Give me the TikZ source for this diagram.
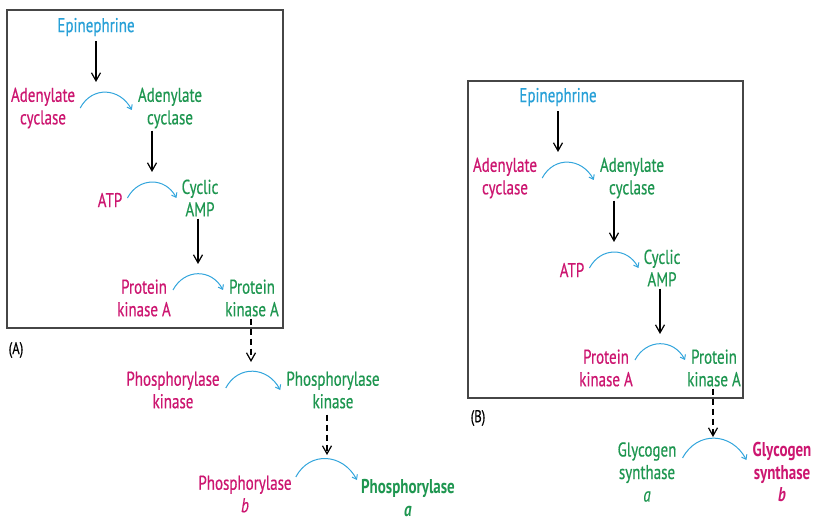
\documentclass[tikz,border=0pt]{standalone}
\usepackage{fontspec}
\setmainfont{PT Sans}[FakeStretch=0.75,UprightFeatures={FakeBold=0.5},ItalicFeatures={FakeBold=0.5}]
\usetikzlibrary{arrows.meta,calc}
\definecolor{magc}{RGB}{204,22,112}
\definecolor{grnc}{RGB}{30,150,80}
\definecolor{bluc}{RGB}{40,160,215}
\definecolor{arcc}{RGB}{50,165,220}
\definecolor{boxc}{RGB}{70,70,70}
\tikzset{
  x=1pt,y=1pt,
  txt/.style={align=center,inner sep=0pt,font=\fontsize{20}{22.5}\selectfont},
  mag/.style={txt,text=magc},
  grn/.style={txt,text=grnc},
  blu/.style={txt,text=bluc},
  panel/.style={draw=boxc,line width=1.1pt},
  plabel/.style={inner sep=0pt,font=\fontsize{17}{20}\selectfont,text=black},
  down/.style={line width=1.2pt,-{Straight Barb[length=8pt,width=9pt]}},
  dashdown/.style={down,dash pattern=on 6pt off 4pt},
  conv/.style={arcc,line width=1pt,-{Straight Barb[length=4pt,width=6pt]},out=62,in=118,looseness=1.25},
}
\begin{document}
\begin{tikzpicture}
\useasboundingbox (0,0) rectangle (824,-526);
% Panel A box
\draw[panel] (7,-10) rectangle (283,-328);
\node[plabel] (labA) at (16,-350) {(A)};
% Panel A nodes
\node[blu] (epiA) at (96,-27) {Epinephrine};
\node[mag] (acmA) at (43,-108) {Adenylate\\cyclase};
\node[grn] (acgA) at (170,-108) {Adenylate\\cyclase};
\node[mag] (atpA) at (110,-200) {ATP};
\node[grn] (campA) at (200,-198) {Cyclic\\AMP};
\node[mag] (pkmA) at (144,-298) {Protein\\kinase A};
\node[grn] (pkgA) at (252,-298) {Protein\\kinase A};
\node[mag] (phkm) at (173,-390) {Phosphorylase\\kinase};
\node[grn] (phkg) at (333,-390) {Phosphorylase\\kinase};
\node[mag] (phb) at (245,-494) {Phosphorylase\\\textit{b}};
\node[grn,font=\fontsize{20}{22.5}\selectfont\bfseries] (pha) at (408,-498) {Phosphorylase\\\textit{a}};
% arcs A
\draw[conv] ([xshift=5pt]acmA.east) to ([xshift=-6pt,yshift=-2pt]acgA.west);
\draw[conv] ([xshift=5pt,yshift=2pt]atpA.east) to ([xshift=-5pt]campA.west);
\draw[conv] ([xshift=2pt,yshift=8pt]pkmA.east) to ([xshift=-2pt,yshift=8pt]pkgA.west);
\draw[conv] ([xshift=6pt,yshift=2pt]phkm.east) to ([xshift=-6pt]phkg.west);
\draw[conv] ([xshift=4pt,yshift=17pt]phb.east) to ([xshift=-4pt,yshift=18pt]pha.west);
% vertical arrows A
\coordinate (e1) at (96,-82);
\coordinate (e2) at (152,-172);
\coordinate (e3) at (198,-264);
\coordinate (e4) at (251,-362);
\coordinate (e5) at (327,-455);
\draw[down] (epiA.south -| e1) ++(0,-5) -- (e1);
\draw[down] (acgA.south -| e2) ++(0,-2) -- (e2);
\draw[down] (campA.south -| e3) ++(0,-2) -- (e3);
\draw[dashdown] (pkgA.south -| e4) ++(0,-2) -- (e4);
\draw[dashdown] (phkg.south -| e5) ++(0,-6) -- (e5);
% Panel B box
\draw[panel] (468,-81) rectangle (743,-398);
\node[plabel] (labB) at (478,-418) {(B)};
\begin{scope}[shift={(462,-70)}]
\node[blu] (epiB) at (96,-27) {Epinephrine};
\node[mag] (acmB) at (43,-108) {Adenylate\\cyclase};
\node[grn] (acgB) at (170,-108) {Adenylate\\cyclase};
\node[mag] (atpB) at (110,-200) {ATP};
\node[grn] (campB) at (200,-198) {Cyclic\\AMP};
\node[mag] (pkmB) at (144,-298) {Protein\\kinase A};
\node[grn] (pkgB) at (252,-298) {Protein\\kinase A};
\coordinate (f1) at (96,-82);
\coordinate (f2) at (152,-172);
\coordinate (f3) at (198,-264);
\coordinate (f4) at (251,-367);
\end{scope}
\node[grn] (gsa) at (647,-472) {Glycogen\\synthase\\\textit{a}};
\node[mag,font=\fontsize{20}{22.5}\selectfont\bfseries] (gsb) at (782,-472) {Glycogen\\synthase\\\textit{b}};
\draw[conv] ([xshift=5pt]acmB.east) to ([xshift=-6pt,yshift=-2pt]acgB.west);
\draw[conv] ([xshift=5pt,yshift=2pt]atpB.east) to ([xshift=-5pt]campB.west);
\draw[conv] ([xshift=2pt,yshift=8pt]pkmB.east) to ([xshift=-2pt,yshift=8pt]pkgB.west);
\draw[conv] ([xshift=6pt,yshift=14pt]gsa.east) to ([xshift=-6pt,yshift=12pt]gsb.west);
\draw[down] (epiB.south -| f1) ++(0,-5) -- (f1);
\draw[down] (acgB.south -| f2) ++(0,-2) -- (f2);
\draw[down] (campB.south -| f3) ++(0,-2) -- (f3);
\draw[dashdown] (pkgB.south -| f4) ++(0,-2) -- (f4);
\end{tikzpicture}
\end{document}
